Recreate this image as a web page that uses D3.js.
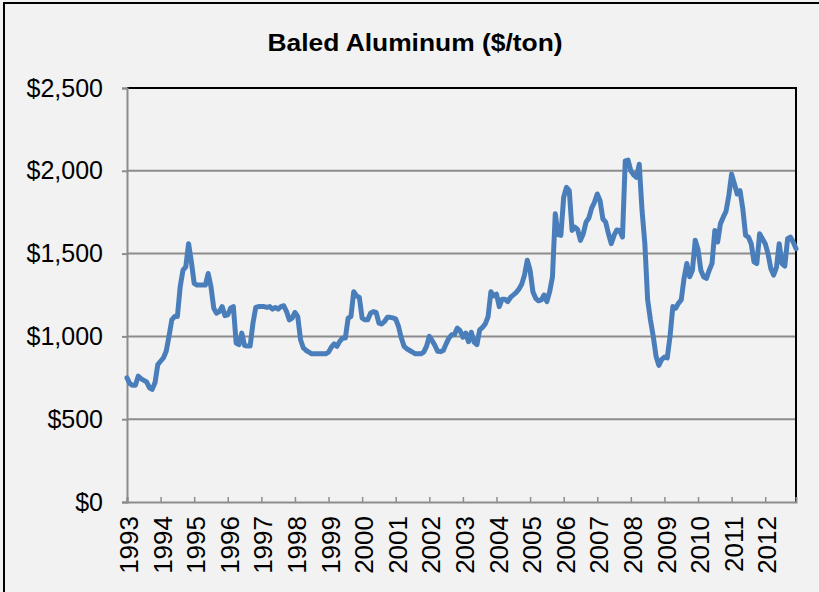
<!DOCTYPE html>
<html lang="en">
<head>
	<meta charset="UTF-8">
	<title>Baled Aluminum</title>
	<script src="https://d3js.org/d3.v7.min.js"></script>
	<style>
		* { margin: 0px; padding: 0px; }
		body { background: #f2f2f2; }
		svg { display: block; font-family: "Liberation Sans", Arial, sans-serif; }
	</style>
</head>
<body>
	<svg width="819" height="592"></svg>
	<script>
		// monthly prices, Jan 1993 .. Dec 2012
		var years = d3.range(1993, 2013);
		var yTicks = [0, 500, 1000, 1500, 2000, 2500];
		var prices = [
			750, 715, 705, 705, 760, 745, 735, 725, 690, 680, 720, 830,           // 1993
			850, 870, 910, 1000, 1100, 1120, 1120, 1300, 1400, 1420, 1560, 1450,  // 1994
			1320, 1310, 1310, 1310, 1310, 1380, 1300, 1170, 1140, 1150, 1180, 1125, // 1995
			1130, 1170, 1180, 960, 950, 1020, 945, 942, 942, 1080, 1175, 1180,    // 1996
			1180, 1180, 1175, 1180, 1165, 1175, 1165, 1180, 1185, 1150, 1100, 1110, // 1997
			1145, 1120, 980, 930, 915, 905, 895, 895, 895, 895, 895, 895,         // 1998
			905, 935, 955, 940, 970, 990, 990, 1110, 1120, 1270, 1245, 1235,      // 1999
			1110, 1100, 1100, 1140, 1150, 1145, 1080, 1075, 1090, 1115, 1115, 1112, // 2000
			1105, 1060, 990, 940, 925, 915, 905, 895, 895, 895, 905, 940,         // 2001
			1000, 975, 945, 910, 908, 915, 955, 990, 1010, 1012, 1050, 1035,      // 2002
			995, 1020, 968, 1025, 965, 950, 1040, 1055, 1075, 1120, 1270, 1245,   // 2003
			1255, 1180, 1225, 1225, 1210, 1235, 1250, 1265, 1285, 1315, 1370, 1460, // 2004
			1400, 1270, 1230, 1215, 1220, 1250, 1210, 1270, 1360, 1740, 1615, 1610, // 2005
			1840, 1900, 1880, 1640, 1660, 1645, 1580, 1620, 1690, 1715, 1775, 1810, // 2006
			1860, 1820, 1710, 1690, 1620, 1560, 1610, 1643, 1640, 1600, 2060, 2065, // 2007
			2000, 1975, 1960, 2040, 1760, 1560, 1220, 1100, 1000, 880, 825, 860,  // 2008
			875, 870, 1000, 1180, 1170, 1200, 1220, 1350, 1440, 1360, 1400, 1580, // 2009
			1525, 1400, 1360, 1350, 1400, 1440, 1640, 1570, 1680, 1720, 1755, 1850, // 2010
			1980, 1920, 1860, 1880, 1770, 1610, 1600, 1560, 1450, 1440, 1620, 1590, // 2011
			1560, 1500, 1410, 1370, 1415, 1560, 1440, 1425, 1590, 1600, 1570, 1530  // 2012
		];

		var svg = d3.select("svg");
		var plotL = 127, plotR = 796, plotT = 88, plotB = 502;

		var x = d3.scaleLinear().domain([0, prices.length - 1]).range([plotL, plotR]);
		var y = d3.scaleLinear().domain([0, 2500]).range([plotB, plotT]);

		// outer chart border
		svg.append("rect")
			.attr("x", 4).attr("y", 3)
			.attr("width", 840).attr("height", 620)
			.attr("fill", "none")
			.attr("stroke", "#000")
			.attr("stroke-width", 2);

		svg.append("text")
			.attr("x", 415).attr("y", 51)
			.attr("text-anchor", "middle")
			.attr("font-size", 24)
			.attr("font-weight", "bold")
			.attr("transform", "translate(415,0) scale(1.1,1) translate(-415,0)")
			.text("Baled Aluminum ($/ton)");

		// gridlines
		svg.append("g")
			.selectAll("line")
			.data(yTicks.slice(1))
			.enter()
			.append("line")
			.attr("x1", plotL).attr("x2", plotR)
			.attr("y1", function (d) { return y(d); })
			.attr("y2", function (d) { return y(d); })
			.attr("stroke", "#8c8c8c")
			.attr("stroke-width", 2);

		// plot border top/right
		svg.append("path")
			.attr("d", "M" + plotL + "," + plotT + "H" + plotR + "V" + plotB)
			.attr("fill", "none")
			.attr("stroke", "#000")
			.attr("stroke-width", 2);

		var yAxis = svg.append("g")
			.attr("transform", "translate(" + plotL + ",0)")
			.call(d3.axisLeft(y).tickValues(yTicks).tickFormat(d3.format("$,.0f")).tickSize(5).tickPadding(19));
		yAxis.select(".domain").attr("stroke", "#8c8c8c").attr("stroke-width", 2);
		yAxis.selectAll(".tick line").attr("stroke", "#8c8c8c").attr("stroke-width", 2);
		yAxis.selectAll("text")
			.attr("font-size", 25)
			.attr("font-family", "Liberation Sans, Arial, sans-serif")
			.attr("fill", "#000");

		var xAxis = svg.append("g")
			.attr("transform", "translate(0," + plotB + ")")
			.call(d3.axisBottom(x).tickValues(years.map(function (d, i) { return i * 12; })).tickSize(-5).tickFormat(""));
		xAxis.select(".domain").attr("stroke", "#8c8c8c").attr("stroke-width", 2);
		xAxis.selectAll(".tick line").attr("stroke", "#8c8c8c").attr("stroke-width", 1.5);

		svg.append("g")
			.selectAll("text")
			.data(years)
			.enter()
			.append("text")
			.attr("transform", function (d, i) { return "translate(" + (x(i * 12) + 2) + ",516) rotate(-90)"; })
			.attr("text-anchor", "end")
			.attr("dy", "0.35em")
			.attr("font-size", 26)
			.text(function (d) { return d; });

		var line = d3.line()
			.x(function (d, i) { return x(i); })
			.y(function (d) { return y(d); });

		svg.append("path")
			.datum(prices)
			.attr("d", line)
			.attr("fill", "none")
			.attr("stroke", "#4a7ebb")
			.attr("stroke-width", 5)
			.attr("stroke-linejoin", "round")
			.attr("stroke-linecap", "round");
	</script>
</body>
</html>
